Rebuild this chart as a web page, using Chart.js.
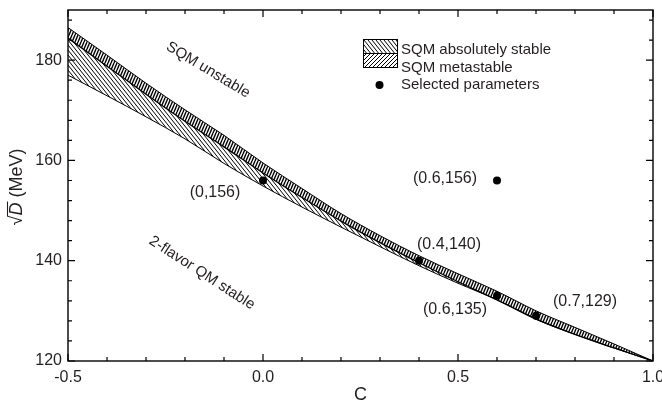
<!DOCTYPE html>
<html><head><meta charset="utf-8">
<script src="https://cdn.jsdelivr.net/npm/chart.js@4/dist/chart.umd.min.js"></script>
<style>html,body{margin:0;padding:0;background:#fff}#wrap{width:662px;height:405px;position:relative}</style>
</head><body><div id="wrap"><canvas id="c" width="662" height="405"></canvas></div>
<script>
// ---- data ----
const cValues = [-0.5,-0.4,-0.3,-0.2,-0.1,0.0,0.1,0.2,0.3,0.4,0.5,0.6,0.7,0.8,0.9,1.0];
const upperD  = [186.5,181.0,175.4,170.1,165.0,159.5,154.4,149.4,145.0,141.0,137.4,133.9,130.0,126.7,123.4,120.0];
const middleD = [184.4,178.8,173.2,167.8,162.7,157.5,152.6,147.9,143.6,139.6,135.8,132.2,128.4,125.3,122.6,120.0];
const lowerD  = [177.0,172.9,168.7,164.3,159.4,154.9,150.7,146.7,142.8,139.0,135.5,132.2,128.3,125.3,122.6,120.0];
const selC = [0.0,0.4,0.6,0.7,0.6];
const selD = [156,140,133,129,156];
const selLabels = ['(0,156)','(0.4,140)','(0.6,135)','(0.7,129)','(0.6,156)'];
const xTicks = [-0.5,0.0,0.5,1.0];
const xMinor = [-0.4,-0.3,-0.2,-0.1,0.1,0.2,0.3,0.4,0.6,0.7,0.8,0.9];
const yTicks = [120,140,160,180];
const yMinor = [124,128,132,136,144,148,152,156,164,168,172,176,184,188];
const legendLabels = ['SQM absolutely stable','SQM metastable','Selected parameters'];
const regionLabels = ['SQM unstable','2-flavor QM stable'];
const xTitle = 'C';

// ---- styles / positions ----
const FONT = "'Liberation Sans', Arial, Helvetica, sans-serif";
const TXT = '#231f20';
const labelOffsets = [[-48,12],[30,-16],[-42,14],[49,-14],[-52,-2]];

const canvas = document.getElementById('c');
const ctx0 = canvas.getContext('2d');
function makePattern(w,h,forward,lw){
  const c=document.createElement('canvas'); c.width=w; c.height=h;
  const g=c.getContext('2d'); g.strokeStyle='#000'; g.lineWidth=lw; g.beginPath();
  for(const s of [-w,0,w]){
    if(forward){ g.moveTo(s,h); g.lineTo(s+w,0); }
    else { g.moveTo(s,0); g.lineTo(s+w,h); }
  }
  g.stroke();
  return ctx0.createPattern(c,'repeat');
}
const patBack = makePattern(4,5,false,1);
const patFwd = makePattern(3,7,true,1.4);
const patFwdLegend = makePattern(4,4,true,1);

const pts = (xs,ys)=>xs.map((x,i)=>({x:x,y:ys[i]}));

const deco = {
  id:'deco',
  afterDatasetsDraw(chart){
    const ctx=chart.ctx, a=chart.chartArea, xs=chart.scales.x, ys=chart.scales.y;
    ctx.save();
    // frame
    ctx.strokeStyle='#000'; ctx.lineWidth=1.4;
    ctx.strokeRect(a.left,a.top,a.right-a.left,a.bottom-a.top);
    ctx.lineWidth=1.2;
    ctx.beginPath();
    for(const v of xTicks){const p=xs.getPixelForValue(v); ctx.moveTo(p,a.bottom); ctx.lineTo(p,a.bottom-7); ctx.moveTo(p,a.top); ctx.lineTo(p,a.top+7);}
    for(const v of xMinor){const p=xs.getPixelForValue(v); ctx.moveTo(p,a.bottom); ctx.lineTo(p,a.bottom-4); ctx.moveTo(p,a.top); ctx.lineTo(p,a.top+4);}
    for(const v of yTicks){const p=ys.getPixelForValue(v); ctx.moveTo(a.left,p); ctx.lineTo(a.left+7,p); ctx.moveTo(a.right,p); ctx.lineTo(a.right-7,p);}
    for(const v of yMinor){const p=ys.getPixelForValue(v); ctx.moveTo(a.left,p); ctx.lineTo(a.left+4,p); ctx.moveTo(a.right,p); ctx.lineTo(a.right-4,p);}
    ctx.stroke();

    // point labels
    ctx.fillStyle=TXT; ctx.font='16px '+FONT; ctx.textAlign='center'; ctx.textBaseline='middle';
    selLabels.forEach((t,i)=>{
      const px=xs.getPixelForValue(selC[i]), py=ys.getPixelForValue(selD[i]);
      ctx.fillText(t,px+labelOffsets[i][0],py+labelOffsets[i][1]);
    });

    // region labels
    ctx.font='15px '+FONT;
    ctx.save(); ctx.translate(208,70); ctx.rotate(31*Math.PI/180); ctx.fillText(regionLabels[0],0,0); ctx.restore();
    ctx.save(); ctx.translate(202,273); ctx.rotate(33*Math.PI/180); ctx.fillText(regionLabels[1],0,0); ctx.restore();

    // legend
    ctx.lineWidth=1;
    ctx.fillStyle=patBack; ctx.fillRect(363,39.5,34,14);
    ctx.strokeRect(363.5,39.5,34,14);
    ctx.fillStyle=patFwdLegend; ctx.fillRect(363,53.5,34,14);
    ctx.strokeRect(363.5,53.5,34,14);
    ctx.fillStyle='#000'; ctx.beginPath(); ctx.arc(379.5,85,4,0,Math.PI*2); ctx.fill();
    ctx.fillStyle=TXT; ctx.font='15px '+FONT; ctx.textAlign='left'; ctx.textBaseline='alphabetic';
    ctx.fillText(legendLabels[0],401,54);
    ctx.fillText(legendLabels[1],401,71.5);
    ctx.fillText(legendLabels[2],401,89);

    // x title
    ctx.font='18px '+FONT; ctx.textAlign='center'; ctx.textBaseline='middle';
    ctx.fillText(xTitle,(a.left+a.right)/2,395);

    // y title: sqrt(D) (MeV)
    ctx.save(); ctx.translate(22,187); ctx.rotate(-Math.PI/2);
    ctx.textAlign='left'; ctx.textBaseline='alphabetic';
    const fN='18px '+FONT, fI='italic 18px '+FONT;
    ctx.font=fN; const wR=ctx.measureText('\u221A').width;
    ctx.font=fI; const wD=ctx.measureText('D').width;
    ctx.font=fN; const wM=ctx.measureText(' (MeV)').width;
    let x0=-(wR+wD+wM)/2;
    ctx.font=fN; ctx.fillText('\u221A',x0,0);
    ctx.font=fI; ctx.fillText('D',x0+wR,0);
    ctx.strokeStyle=TXT; ctx.lineWidth=1.1; ctx.beginPath();
    ctx.moveTo(x0+wR-1,-14.5); ctx.lineTo(x0+wR+wD+1,-14.5); ctx.stroke();
    ctx.font=fN; ctx.fillText(' (MeV)',x0+wR+wD,0);
    ctx.restore();
    ctx.restore();
  }
};

function noPad(s){ s.paddingLeft=0; s.paddingRight=0; s.paddingTop=0; s.paddingBottom=0; }

new Chart(canvas,{
  type:'line',
  data:{datasets:[
    {data:pts(cValues,lowerD),borderColor:'#000',borderWidth:1,pointRadius:0,fill:false,cubicInterpolationMode:'monotone'},
    {data:pts(cValues,middleD),borderColor:'#000',borderWidth:1.3,pointRadius:0,fill:'-1',backgroundColor:patBack,cubicInterpolationMode:'monotone'},
    {data:pts(cValues,upperD),borderColor:'#000',borderWidth:1,pointRadius:0,fill:'-1',backgroundColor:patFwd,cubicInterpolationMode:'monotone'},
    {data:pts(selC,selD),showLine:false,pointRadius:4,pointBackgroundColor:'#000',pointBorderWidth:0,borderColor:'#000',fill:false}
  ]},
  options:{
    responsive:false, animation:false, devicePixelRatio:1,
    layout:{padding:{top:10,right:9,left:0,bottom:0}},
    plugins:{legend:{display:false},tooltip:{enabled:false}},
    scales:{
      x:{type:'linear',min:-0.5,max:1.0,
        afterBuildTicks:s=>{s.ticks=xTicks.map(v=>({value:v}));},
        afterFit:s=>{s.height=44; noPad(s);},
        grid:{display:false,drawTicks:false},border:{display:false},
        ticks:{font:{size:16,family:FONT},color:TXT,padding:7,maxRotation:0,autoSkip:false,callback:v=>Number(v).toFixed(1)}},
      y:{type:'linear',min:120,max:190,
        afterBuildTicks:s=>{s.ticks=yTicks.map(v=>({value:v}));},
        afterFit:s=>{s.width=68; noPad(s);},
        grid:{display:false,drawTicks:false},border:{display:false},
        ticks:{font:{size:16,family:FONT},color:TXT,padding:6,autoSkip:false}}
    }
  },
  plugins:[deco]
});
</script></body></html>
